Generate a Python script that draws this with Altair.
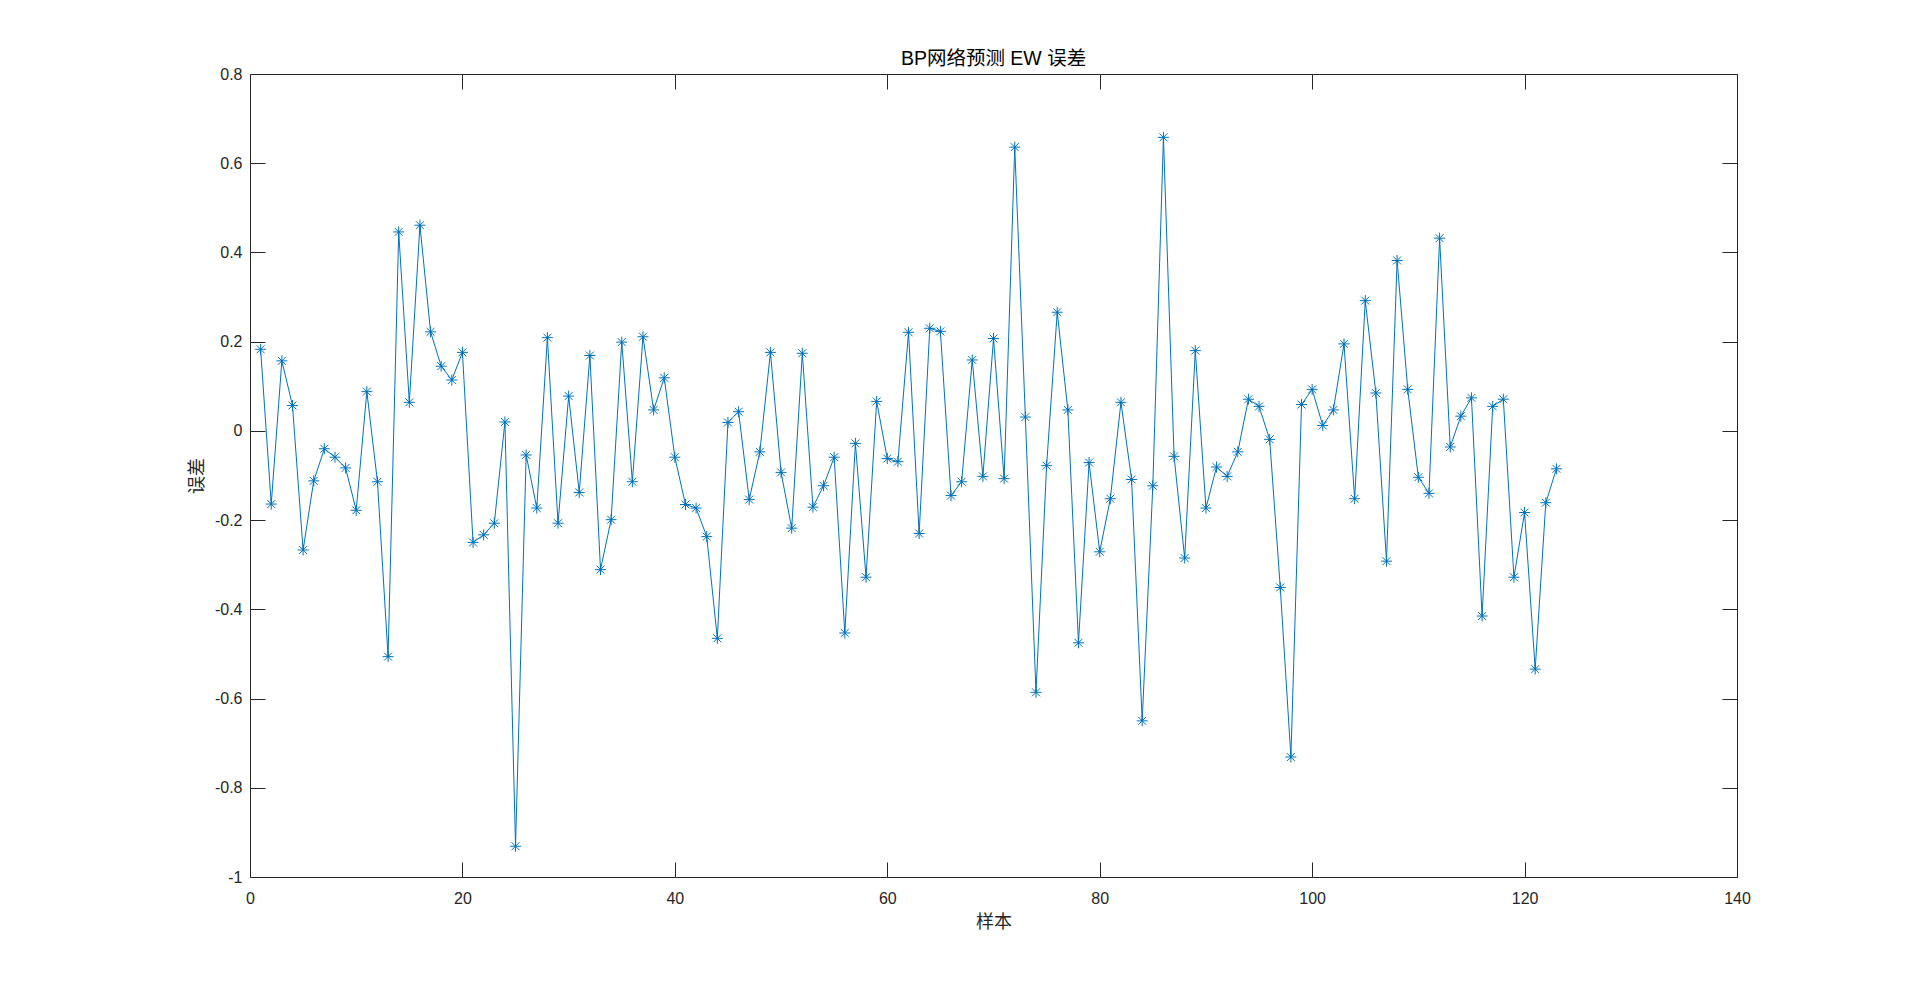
import altair as alt
import pandas as pd

samples = list(range(1, 124))
errors = [
    0.183, -0.164, 0.157, 0.057, -0.267, -0.112, -0.040, -0.059, -0.083, -0.178,
    0.088, -0.114, -0.506, 0.446, 0.064, 0.461, 0.222, 0.145, 0.114, 0.176,
    -0.250, -0.233, -0.207, 0.020, -0.931, -0.054, -0.173, 0.209, -0.207, 0.078,
    -0.138, 0.169, -0.311, -0.199, 0.199, -0.114, 0.211, 0.047, 0.119, -0.059,
    -0.165, -0.173, -0.237, -0.465, 0.019, 0.043, -0.154, -0.047, 0.176, -0.093,
    -0.218, 0.174, -0.171, -0.123, -0.059, -0.453, -0.028, -0.328, 0.066, -0.062,
    -0.069, 0.221, -0.230, 0.230, 0.223, -0.145, -0.114, 0.159, -0.102, 0.207,
    -0.107, 0.636, 0.031, -0.586, -0.078, 0.266, 0.047, -0.475, -0.071, -0.271,
    -0.152, 0.064, -0.109, -0.650, -0.123, 0.658, -0.057, -0.285, 0.180, -0.173,
    -0.081, -0.102, -0.047, 0.071, 0.055, -0.019, -0.351, -0.731, 0.059, 0.093,
    0.012, 0.047, 0.195, -0.152, 0.292, 0.085, -0.292, 0.382, 0.093, -0.104,
    -0.140, 0.432, -0.036, 0.033, 0.074, -0.415, 0.055, 0.071, -0.328, -0.183,
    -0.534, -0.161, -0.085,
]
x_ticks = [0, 20, 40, 60, 80, 100, 120, 140]
y_ticks = [-1, -0.8, -0.6, -0.4, -0.2, 0, 0.2, 0.4, 0.6, 0.8]
title_text = "BP网络预测 EW 误差"
x_title = "样本"
y_title = "误差"

df = pd.DataFrame({"sample": samples, "error": errors})

LINE = "#0072BD"
AX = "#262626"
LATIN = "Liberation Sans, Arial, Helvetica, Noto Sans CJK SC"
CJK = "Noto Sans CJK SC"
star = "M-1,0L1,0M0,-1L0,1M-0.72,-0.72L0.72,0.72M-0.72,0.72L0.72,-0.72"
label_expr = "(datum.value < 0 ? '-' : '') + format(abs(datum.value), '~g')"

xs = alt.Scale(domain=[0, 140], nice=False, zero=False)
ys = alt.Scale(domain=[-1, 0.8], nice=False, zero=False)

common = dict(offset=-15, tickSize=15, tickColor=AX, tickWidth=1, domain=False,
              grid=False, labelFlush=False)

base = alt.Chart(df)

line = base.mark_line(color=LINE, strokeWidth=1).encode(
    x=alt.X("sample:Q", scale=xs, axis=alt.Axis(
        orient="bottom", values=x_ticks, title=x_title, labelPadding=13,
        labelFont=LATIN, labelFontSize=16, labelColor=AX,
        titleFont=CJK, titleFontSize=18, titleFontWeight="normal", titleColor=AX,
        titlePadding=7, **common)),
    y=alt.Y("error:Q", scale=ys, axis=alt.Axis(
        orient="left", values=y_ticks, title=y_title, labelPadding=8,
        labelExpr=label_expr,
        labelFont=LATIN, labelFontSize=16, labelColor=AX,
        titleFont=CJK, titleFontSize=18, titleFontWeight="normal", titleColor=AX,
        titlePadding=8, **common)),
)

points = base.mark_point(shape=star, size=121, color=LINE, strokeWidth=1,
                         filled=False, opacity=1).encode(
    x=alt.X("sample:Q", scale=xs, axis=None),
    y=alt.Y("error:Q", scale=ys, axis=None),
)

frame = base.mark_point(opacity=0).encode(
    x=alt.X("sample:Q", scale=xs, axis=alt.Axis(
        orient="top", values=x_ticks, labels=False, title="", **common)),
    y=alt.Y("error:Q", scale=ys, axis=alt.Axis(
        orient="right", values=y_ticks, labels=False, title="", **common)),
)

chart = alt.layer(line, points, frame).resolve_axis(
    x="independent", y="independent"
).properties(
    width=1487,
    height=803,
    title=alt.TitleParams(text=title_text, font=LATIN, fontSize=19.5,
                          fontWeight="normal", color="#000000", offset=-3,
                          anchor="middle"),
    autosize=alt.AutoSizeParams(type="none"),
    padding={"left": 242, "top": 66, "right": 160, "bottom": 100},
).configure_view(stroke=AX, strokeWidth=1)

chart.save("out.html", embed_options={"renderer": "svg", "actions": False})
